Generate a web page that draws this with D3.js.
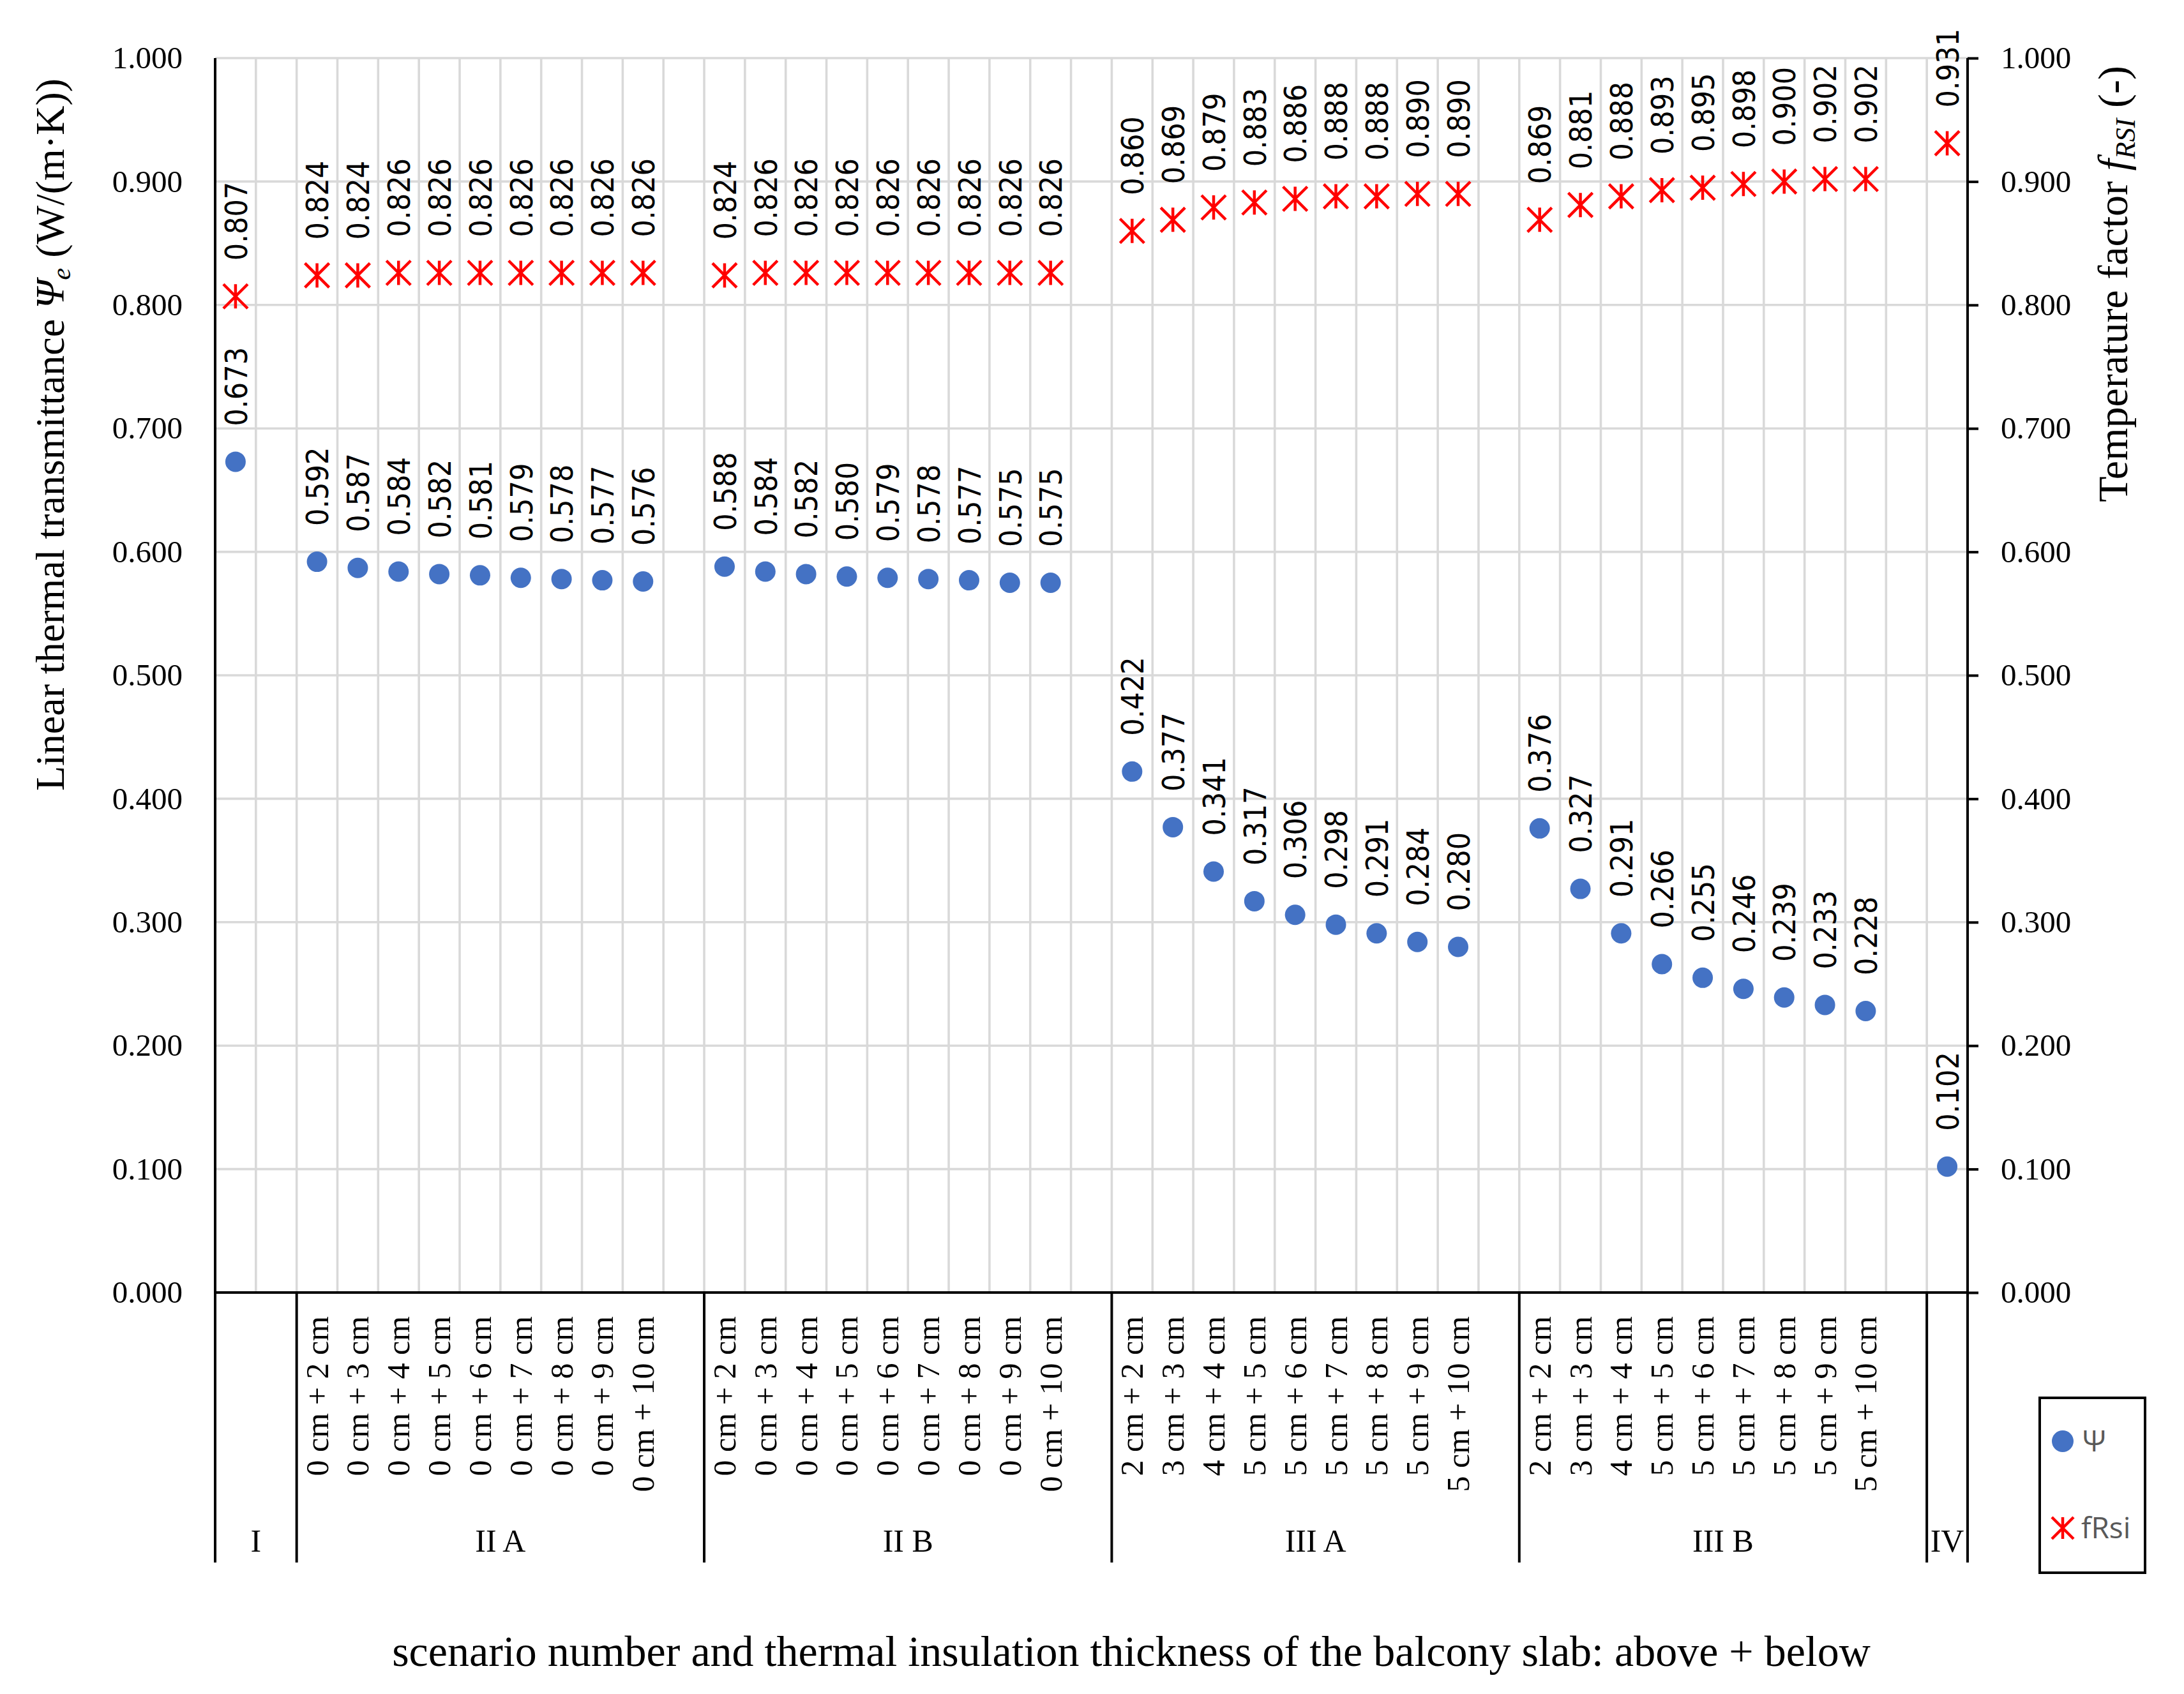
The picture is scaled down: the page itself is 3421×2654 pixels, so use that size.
<!DOCTYPE html>
<html>
<head>
<meta charset="utf-8">
<script src="https://cdn.jsdelivr.net/npm/d3@7"></script>
<style>
  html, body { margin: 0; padding: 0; background: #fff; }
  svg { display: block; }
</style>
</head>
<body>
<div id="chart-div"></div>
<script>
//**********************************************************************************************
//                                      DATA
//**********************************************************************************************
const groups = ["I", "II A", "II B", "III A", "III B", "IV"]

const labels_I = [""]
const labels_II = ["0 cm + 2 cm", "0 cm + 3 cm", "0 cm + 4 cm", "0 cm + 5 cm", "0 cm + 6 cm",
                   "0 cm + 7 cm", "0 cm + 8 cm", "0 cm + 9 cm", "0 cm + 10 cm"]
const labels_III = ["2 cm + 2 cm", "3 cm + 3 cm", "4 cm + 4 cm", "5 cm + 5 cm", "5 cm + 6 cm",
                    "5 cm + 7 cm", "5 cm + 8 cm", "5 cm + 9 cm", "5 cm + 10 cm"]
const labels_IV = [""]

const psi_I   = [0.673]
const psi_IIA = [0.592, 0.587, 0.584, 0.582, 0.581, 0.579, 0.578, 0.577, 0.576]
const psi_IIB = [0.588, 0.584, 0.582, 0.580, 0.579, 0.578, 0.577, 0.575, 0.575]
const psi_IIIA = [0.422, 0.377, 0.341, 0.317, 0.306, 0.298, 0.291, 0.284, 0.280]
const psi_IIIB = [0.376, 0.327, 0.291, 0.266, 0.255, 0.246, 0.239, 0.233, 0.228]
const psi_IV  = [0.102]

const frsi_I   = [0.807]
const frsi_IIA = [0.824, 0.824, 0.826, 0.826, 0.826, 0.826, 0.826, 0.826, 0.826]
const frsi_IIB = [0.824, 0.826, 0.826, 0.826, 0.826, 0.826, 0.826, 0.826, 0.826]
const frsi_IIIA = [0.860, 0.869, 0.879, 0.883, 0.886, 0.888, 0.888, 0.890, 0.890]
const frsi_IIIB = [0.869, 0.881, 0.888, 0.893, 0.895, 0.898, 0.900, 0.902, 0.902]
const frsi_IV  = [0.931]

const yTicks = [0, 0.1, 0.2, 0.3, 0.4, 0.5, 0.6, 0.7, 0.8, 0.9, 1.0]

//**********************************************************************************************
//                                      CONSTANTS
//**********************************************************************************************
const WIDTH = 3421
const HEIGHT = 2654
const MARGIN_LEFT = 337
const MARGIN_RIGHT = WIDTH - 3082
const MARGIN_TOP = 91
const AXIS_Y = 2025
const SEP_BOTTOM = 2448

const BLUE = "#4472C4"
const RED = "#FF0000"
const GRID = "#D9D9D9"
const SERIF = "'Liberation Serif', 'Times New Roman', serif"
const SANS = "'DejaVu Sans', sans-serif"

//**********************************************************************************************
//                                  BUILD CATEGORY ROWS
//**********************************************************************************************
const groupLabels = [labels_I, labels_II, labels_II, labels_III, labels_III, labels_IV]
const groupPsi = [psi_I, psi_IIA, psi_IIB, psi_IIIA, psi_IIIB, psi_IV]
const groupFrsi = [frsi_I, frsi_IIA, frsi_IIB, frsi_IIIA, frsi_IIIB, frsi_IV]

let rows = []
let groupSpans = []
groups.forEach(function(g, gi){
    let start = rows.length
    groupLabels[gi].forEach(function(lab, i){
        rows.push({id: rows.length, group: g, label: lab, psi: groupPsi[gi][i], frsi: groupFrsi[gi][i]})
    })
    // empty slot closing each group except the last one
    if (gi < groups.length - 1){
        rows.push({id: rows.length, group: g, label: "", psi: null, frsi: null})
    }
    groupSpans.push({name: g, start: start, end: rows.length})
})

//**********************************************************************************************
//                                  GENERAL SET UP
//**********************************************************************************************
const svg = d3.select("#chart-div").append("svg")
    .attr("width", WIDTH)
    .attr("height", HEIGHT)
    .style("background-color", "#fff")

const x_scale = d3.scaleBand()
    .domain(rows.map(d => d.id))
    .range([MARGIN_LEFT, WIDTH - MARGIN_RIGHT])
    .padding(0)

const y_scale = d3.scaleLinear()
    .domain([0, 1])
    .range([AXIS_Y, MARGIN_TOP])

const bw = x_scale.bandwidth()
const cx = d => x_scale(d.id) + bw / 2

// horizontal gridlines
svg.append("g")
    .selectAll("line")
    .data(yTicks.slice(1))
    .enter().append("line")
    .attr("x1", MARGIN_LEFT).attr("x2", WIDTH - MARGIN_RIGHT)
    .attr("y1", d => y_scale(d)).attr("y2", d => y_scale(d))
    .style("stroke", GRID).style("stroke-width", 3.6)

// vertical gridlines at every slot boundary
svg.append("g")
    .selectAll("line")
    .data(rows.slice(1))
    .enter().append("line")
    .attr("x1", d => x_scale(d.id)).attr("x2", d => x_scale(d.id))
    .attr("y1", MARGIN_TOP).attr("y2", AXIS_Y)
    .style("stroke", GRID).style("stroke-width", 3.6)

// left axis
const yAxisLeft = svg.append("g")
    .attr("transform", `translate(${MARGIN_LEFT},0)`)
    .call(d3.axisLeft(y_scale).tickValues(yTicks).tickFormat(d3.format(".3f")).tickSize(0).tickPadding(51))
yAxisLeft.select(".domain").remove()
yAxisLeft.selectAll("text")
    .style("font-family", SERIF).style("font-size", "49px").style("fill", "#000")

// right axis
const yAxisRight = svg.append("g")
    .attr("transform", `translate(${WIDTH - MARGIN_RIGHT},0)`)
    .call(d3.axisRight(y_scale).tickValues(yTicks).tickFormat(d3.format(".3f")).tickSize(17).tickPadding(35))
yAxisRight.select(".domain").remove()
yAxisRight.selectAll("line").style("stroke", "#000").style("stroke-width", 4)
yAxisRight.selectAll("text")
    .style("font-family", SERIF).style("font-size", "49px").style("fill", "#000")

// axis lines and group separators
const axisG = svg.append("g").style("stroke", "#000").style("stroke-width", 4)
axisG.append("line")
    .attr("x1", MARGIN_LEFT).attr("x2", WIDTH - MARGIN_RIGHT)
    .attr("y1", AXIS_Y).attr("y2", AXIS_Y)

let sepPositions = groupSpans.map(s => x_scale(s.start))
sepPositions.push(WIDTH - MARGIN_RIGHT)
axisG.selectAll(".sep")
    .data(sepPositions)
    .enter().append("line")
    .attr("class", "sep")
    .attr("x1", d => d).attr("x2", d => d)
    .attr("y1", (d, i) => (i === 0 || i === sepPositions.length - 1) ? MARGIN_TOP : AXIS_Y)
    .attr("y2", SEP_BOTTOM)

// category labels
svg.append("g")
    .selectAll("text")
    .data(rows.filter(d => d.label !== ""))
    .enter().append("text")
    .attr("transform", d => `translate(${cx(d)},2062) rotate(-90)`)
    .attr("dy", "0.34em")
    .attr("text-anchor", "end")
    .style("font-family", SERIF).style("font-size", "50px")
    .text(d => d.label)

// group labels
svg.append("g")
    .selectAll("text")
    .data(groupSpans)
    .enter().append("text")
    .attr("x", d => {
        let a = x_scale(d.start)
        let b = d.end < rows.length ? x_scale(d.end) : WIDTH - MARGIN_RIGHT
        return (a + b) / 2
    })
    .attr("y", 2431)
    .attr("text-anchor", "middle")
    .style("font-family", SERIF).style("font-size", "50px")
    .text(d => d.name)

//**********************************************************************************************
//                                      MARKS
//**********************************************************************************************
function starPath(x, y, h){
    let p = d3.path()
    p.moveTo(x - h, y - h); p.lineTo(x + h, y + h)
    p.moveTo(x + h, y - h); p.lineTo(x - h, y + h)
    p.moveTo(x, y - h); p.lineTo(x, y + h)
    return p.toString()
}

const psiData = rows.filter(d => d.psi !== null)
const frsiData = rows.filter(d => d.frsi !== null)

svg.append("g")
    .selectAll("circle")
    .data(psiData)
    .enter().append("circle")
    .attr("cx", cx)
    .attr("cy", d => y_scale(d.psi))
    .attr("r", 16)
    .style("fill", BLUE)

svg.append("g")
    .selectAll("path")
    .data(frsiData)
    .enter().append("path")
    .attr("d", d => starPath(cx(d), y_scale(d.frsi), 19))
    .style("fill", "none").style("stroke", RED).style("stroke-width", 4.5)

// data labels
const fmt = d3.format(".3f")
function addLabels(data, key){
    svg.append("g")
        .selectAll("text")
        .data(data)
        .enter().append("text")
        .attr("transform", d => `translate(${cx(d)},${y_scale(d[key]) - 56}) rotate(-90)`)
        .attr("dy", "0.37em")
        .attr("text-anchor", "start")
        .style("font-family", SANS).style("font-stretch", "condensed").style("font-size", "48px")
        .style("fill", "#000")
        .text(d => fmt(d[key]))
}
addLabels(psiData, "psi")
addLabels(frsiData, "frsi")

//**********************************************************************************************
//                                      TITLES
//**********************************************************************************************
const yTitle = svg.append("text")
    .attr("transform", "translate(100,681) rotate(-90)")
    .attr("text-anchor", "middle")
    .style("font-family", SERIF).style("font-size", "64px")
yTitle.append("tspan").text("Linear thermal transmittance ")
yTitle.append("tspan").style("font-style", "italic").text("Ψ")
yTitle.append("tspan").style("font-style", "italic").style("font-size", "43px").attr("dy", "10").text("e")
yTitle.append("tspan").attr("dy", "-10").text(" (W/(m·K))")

const rTitle = svg.append("text")
    .attr("transform", "translate(3332,445) rotate(-90)")
    .attr("text-anchor", "middle")
    .style("font-family", SERIF).style("font-size", "66px")
rTitle.append("tspan").text("Temperature factor ")
rTitle.append("tspan").style("font-style", "italic").text("f")
rTitle.append("tspan").style("font-style", "italic").style("font-size", "44px").attr("dy", "12").text("RSI")
rTitle.append("tspan").attr("dy", "-12").text(" (-)")

svg.append("text")
    .attr("x", 1772).attr("y", 2610)
    .attr("text-anchor", "middle")
    .style("font-family", SERIF).style("font-size", "68px")
    .text("scenario number and thermal insulation thickness of the balcony slab: above + below")

//**********************************************************************************************
//                                      LEGEND
//**********************************************************************************************
const legend = svg.append("g")
legend.append("rect")
    .attr("x", 3195).attr("y", 2190).attr("width", 165).attr("height", 274)
    .style("fill", "#fff").style("stroke", "#000").style("stroke-width", 4)
legend.append("circle")
    .attr("cx", 3231).attr("cy", 2258).attr("r", 17)
    .style("fill", BLUE)
legend.append("path")
    .attr("d", starPath(3231, 2394, 17))
    .style("fill", "none").style("stroke", RED).style("stroke-width", 4.5)
legend.append("text")
    .attr("x", 3262).attr("y", 2258).attr("dy", "0.35em")
    .style("font-family", "'Open Sans', sans-serif").style("font-size", "46px").style("fill", "#595959")
    .text("Ψ")
legend.append("text")
    .attr("x", 3260).attr("y", 2394).attr("dy", "0.35em")
    .style("font-family", "'Open Sans', sans-serif").style("font-size", "46px").style("fill", "#595959")
    .text("fRsi")
</script>
</body>
</html>
